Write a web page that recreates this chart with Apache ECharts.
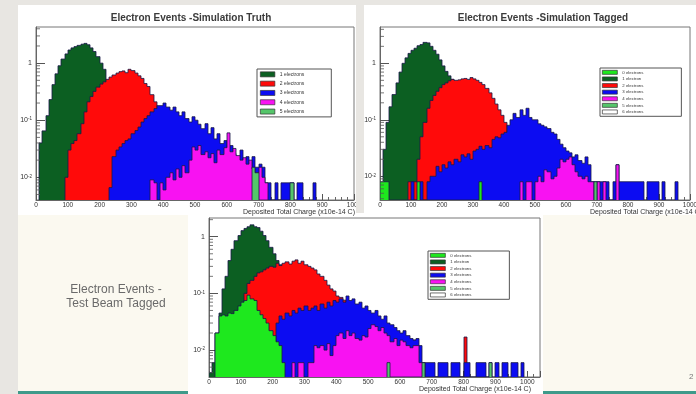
<!DOCTYPE html>
<html>
<head>
<meta charset="utf-8">
<script src="https://cdn.jsdelivr.net/npm/echarts@6.0.0/dist/echarts.min.js"></script>
<style>
html,body{margin:0;padding:0;background:#e8e6e2;}
#chart{width:696px;height:394px;}
</style>
</head>
<body>
<div id="chart"></div>
<script>
// Every histogram uses bins of 10 (x1e-14 C); each series lists its bin contents
// starting at the lower edge given by the matching *Start constant.
const BIN = 10;
const AXIS_TITLE = 'Deposited Total Charge (x10e-14 C)';

// ---- Electron Events - Simulation Truth ----
const truthOneStart = 10;
const truthOne = [0.04,0.065,0.12,0.23,0.42,0.65,0.9,1.18,1.45,1.7,1.85,1.95,2.05,2.15,2.22,2.1,1.85,1.6,1.3,1.0,0.78,0.5,0.3,0.12,0.05,0.02];
const truthTwoStart = 90;
const truthTwo = [0.01,0.03,0.039,0.044,0.058,0.087,0.14,0.21,0.26,0.32,0.38,0.43,0.47,0.52,0.57,0.62,0.67,0.71,0.73,0.68,0.78,0.74,0.67,0.6,0.54,0.44,0.39,0.28,0.21,0.15,0.09,0.045,0.02,0.01];
const truthThreeStart = 230;
const truthThree = [0.0066,0.023,0.03,0.034,0.039,0.044,0.047,0.058,0.066,0.076,0.093,0.107,0.12,0.14,0.16,0.18,0.18,0.2,0.17,0.15,0.17,0.14,0.12,0.14,0.107,0.093,0.115,0.1,0.085,0.071,0.087,0.058,0.074,0.047,0.058,0.039,0.044,0.032,0.036,0.026,0.023,0.03,0.02,0.023,0.015,0.023,0.015,0.017,0.015,0.008,0.008,0,0.008,0,0.008,0.008,0.008,0.008,0,0.008,0.008,0,0,0,0.008];
const truthFourStart = 360;
const truthFour = [0.009,0.008,0,0.008,0.006,0.01,0.012,0.009,0.014,0.01,0.016,0.012,0.02,0.034,0.03,0.036,0.025,0.028,0.022,0.026,0.018,0.03,0.025,0.033,0.06,0.028,0.032,0.024,0.02,0.022,0.017,0.02,0.014,0.012,0.015,0.01,0.008];
const truthFiveStart = 680;
const truthFive = [0.015,0.012,0,0,0,0,0,0,0,0,0,0,0.008];

// ---- Electron Events - Simulation Tagged ----
const tagZeroStart = 0;
const tagZero = [0.008,0.008,0.008,0,0,0,0,0,0,0,0,0,0.008,0,0,0,0,0,0,0,0,0,0,0,0,0,0,0,0,0,0,0,0.008];
const tagOneStart = 10;
const tagOne = [0.03,0.09,0.17,0.28,0.45,0.7,1.0,1.25,1.5,1.7,1.85,2.05,2.15,2.35,2.3,2.0,1.7,1.45,1.15,0.9,0.72,0.6,0.52,0.3,0.12,0.05,0.02];
const tagTwoStart = 90;
const tagTwo = [0.008,0.008,0.008,0.02,0.05,0.09,0.16,0.22,0.27,0.32,0.37,0.42,0.45,0.49,0.52,0.5,0.51,0.53,0.54,0.52,0.56,0.53,0.5,0.46,0.42,0.36,0.3,0.24,0.19,0.15,0.12,0.09,0.06,0.03,0.012];
const tagThreeStart = 100;
const tagThree = [0.008,0,0,0.008,0,0.008,0.01,0.01,0.015,0.012,0.016,0.014,0.018,0.016,0.02,0.018,0.024,0.022,0.025,0.02,0.028,0.03,0.034,0.03,0.035,0.032,0.045,0.05,0.048,0.056,0.06,0.08,0.1,0.13,0.11,0.15,0.12,0.16,0.11,0.1,0.1,0.085,0.08,0.075,0.07,0.06,0.056,0.045,0.037,0.032,0.028,0.026,0.022,0.024,0.019,0.017,0.022,0.016,0.008,0.008,0.008,0.008,0.008,0.008,0,0.008,0.016,0.008,0.008,0.008,0.008,0.008,0.008,0.008,0.008,0,0.008,0.008,0.008,0.008,0,0.008,0,0,0,0.008];
const tagFourStart = 450;
const tagFour = [0.008,0,0.008,0.008,0,0.008,0.01,0.008,0.013,0.012,0.009,0.01,0.014,0.02,0.018,0.02,0.022,0.016,0.012,0.01,0.009,0.01,0.008,0.008,0,0.008,0,0.008,0,0,0,0.016];
const tagFiveStart = 690;
const tagFive = [0.008];
const tagSixStart = 0;
const tagSix = [];

// ---- Electron Events - Test Beam Tagged ----
const beamZeroStart = 20;
const beamZero = [0.02,0.04,0.042,0.04,0.045,0.044,0.05,0.06,0.07,0.075,0.093,0.08,0.075,0.05,0.042,0.036,0.03,0.022,0.018,0.014,0.012,0.006];
const beamOneStart = 0;
const beamOne = [0.004,0.006,0.02,0.045,0.12,0.2,0.38,0.6,0.85,1.05,1.28,1.4,1.5,1.62,1.5,1.45,1.25,1.05,0.85,0.65,0.5,0.38,0.32,0.27,0.12,0.04,0.015];
const beamTwoStart = 100;
const beamTwo = [0.05,0.1,0.15,0.17,0.2,0.23,0.24,0.26,0.28,0.3,0.29,0.34,0.31,0.34,0.36,0.33,0.37,0.39,0.34,0.37,0.32,0.3,0.28,0.26,0.22,0.2,0.17,0.14,0.12,0.11,0.09,0.085,0.076,0.06,0.04,0.03,0.022,0.018,0.015,0.012,0.012,0.01,0.008,0,0,0,0,0,0,0,0,0,0,0,0.015,0,0,0,0,0,0,0,0,0,0,0,0,0,0,0,0.017];
const beamThreeStart = 200;
const beamThree = [0.006,0.03,0.04,0.035,0.045,0.04,0.05,0.045,0.055,0.05,0.06,0.05,0.055,0.06,0.05,0.065,0.055,0.07,0.06,0.075,0.07,0.08,0.07,0.09,0.075,0.08,0.065,0.07,0.055,0.06,0.05,0.045,0.05,0.04,0.035,0.04,0.03,0.028,0.025,0.022,0.02,0.022,0.018,0.016,0.015,0.016,0.012,0.006,0.006,0.006,0.006,0,0.006,0.006,0.006,0,0.006,0.006,0.006,0,0.006,0.006,0,0,0.006,0.006,0.006,0,0.006,0,0.006,0,0.006,0.006,0,0.006,0.006,0,0.006];
const beamFourStart = 260;
const beamFour = [0.006,0,0.006,0.006,0,0.006,0.006,0.012,0.011,0.012,0.01,0.013,0.008,0.012,0.018,0.02,0.016,0.022,0.018,0.02,0.016,0.015,0.018,0.017,0.024,0.028,0.026,0.022,0.025,0.02,0.018,0.014,0.016,0.012,0.015,0.014,0.012,0.011,0.012,0.012,0.006,0.006];
const beamFiveStart = 560;
const beamFive = [0.006,0,0,0,0,0,0,0,0,0,0,0.006,0,0,0,0,0,0,0,0,0,0,0,0,0,0,0,0,0,0,0,0,0.006];
const beamSixStart = 0;
const beamSix = [];

// Minor ticks of the logarithmic axes sit at 2..9 times each power of ten
const logMantissas = [2,3,4,5,6,7,8,9];
const logDecades = [0.001,0.01,0.1,1];

const FONT = '"Liberation Sans", Arial, sans-serif';
const OUTLINE = '#1a1a48';
const COLOR = {
  zero: '#1ee81e', one: '#0c5f22', two: '#ff0a0a', three: '#0c0cf2',
  four: '#f812f2', five: '#55c66a', six: '#ffffff'
};

function histItems(start, values) {
  return values.map((v, i) => [
    start + i * BIN, start + (i + 1) * BIN, v,
    i > 0 ? values[i - 1] : 0, i === values.length - 1 ? 1 : 0
  ]);
}

// Filled bin plus the ROOT-style contour (left step and top edge);
// x edges are snapped to whole pixels so neighbouring bins join without seams.
function renderBin(params, api) {
  const cs = params.coordSys;
  const bottom = cs.y + cs.height;
  const yOf = v => {
    if (!(v > 0)) return bottom;
    const y = api.coord([0, v])[1];
    return isFinite(y) ? Math.min(y, bottom) : bottom;
  };
  const x0 = Math.round(api.coord([api.value(0), 1])[0]);
  const x1 = Math.round(api.coord([api.value(1), 1])[0]);
  const yTop = yOf(api.value(2));
  const yPrev = yOf(api.value(3));
  const pts = [[x0, yPrev], [x0, yTop], [x1, yTop]];
  if (api.value(4)) pts.push([x1, bottom]);
  const children = [];
  if (yTop < bottom) {
    children.push({type: 'rect', shape: {x: x0, y: yTop, width: x1 - x0, height: bottom - yTop},
      style: {fill: api.visual('color')}});
  }
  children.push({type: 'polyline', shape: {points: pts},
    style: {stroke: OUTLINE, lineWidth: 0.9, fill: null, opacity: 0.9}});
  return {type: 'group', children};
}

function hist(name, grid, start, values, color) {
  return {
    type: 'custom', name, xAxisIndex: grid, yAxisIndex: grid,
    itemStyle: {color}, clip: true, silent: true,
    encode: {x: [0, 1], y: 2},
    renderItem: renderBin, data: histItems(start, values)
  };
}

const minorValues = logDecades.flatMap(d => logMantissas.map(m => m * d));
function minorTicks(grid) {
  return {
    type: 'custom', name: 'log minor ticks ' + grid, xAxisIndex: grid, yAxisIndex: grid,
    clip: true, silent: true, z: 5, encode: {y: 0},
    data: minorValues.map(v => [v]),
    renderItem: (params, api) => {
      const cs = params.coordSys;
      const y = api.coord([0, api.value(0)])[1];
      if (!(y > cs.y && y < cs.y + cs.height)) return null;
      return {type: 'line', shape: {x1: cs.x, y1: y, x2: cs.x + 4, y2: y},
        style: {stroke: '#555', lineWidth: 0.8}};
    }
  };
}

function decadeLabel(v) {
  const l = Math.log10(v);
  const e = Math.round(l);
  if (Math.abs(l - e) > 1e-6) return '';
  return e === 0 ? '1' : '10{s|' + e + '}';
}

function xAxisFor(grid, max, nameGap) {
  return {
    type: 'value', gridIndex: grid, min: 0, max, interval: 100,
    axisLine: {lineStyle: {color: '#666', width: 1}},
    axisTick: {inside: true, length: 6, lineStyle: {color: '#555'}},
    minorTick: {show: true, splitNumber: 5, length: 3, lineStyle: {color: '#666'}},
    splitLine: {show: false},
    axisLabel: {fontSize: 6.5, color: '#333', margin: 1.5, fontFamily: FONT,
      showMaxLabel: max === 1000, formatter: v => String(v)},
    name: AXIS_TITLE, nameLocation: 'end', nameGap,
    nameTextStyle: {fontSize: 7, color: '#333', align: 'right', verticalAlign: 'top',
      padding: [8.5, 0, 0, 0], fontFamily: FONT}
  };
}

function yAxisFor(grid, min, max) {
  return {
    type: 'log', logBase: 10, gridIndex: grid, min, max,
    axisLine: {lineStyle: {color: '#666', width: 1}},
    axisTick: {inside: true, length: 9, lineStyle: {color: '#555'}},
    splitLine: {show: false},
    axisLabel: {
      fontSize: 7, color: '#333', margin: 4, fontFamily: FONT,
      showMinLabel: false, showMaxLabel: false, formatter: decadeLabel,
      rich: {s: {fontSize: 4.5, verticalAlign: 'top', fontFamily: FONT, color: '#333'}}
    }
  };
}

function legendFor(left, top, names, opts) {
  return Object.assign({
    orient: 'vertical', left, top, data: names, icon: 'rect',
    backgroundColor: '#ffffff', borderColor: '#555', borderWidth: 1,
    itemStyle: {borderColor: '#333', borderWidth: 0.7},
    selectedMode: false
  }, opts);
}

const tagNames = ['0 electrons','1 electron','2 electrons','3 electrons','4 electrons','5 electrons','6 electrons'];

const chart = echarts.init(document.getElementById('chart'), null, {renderer: 'canvas'});
chart.setOption({
  animation: false,
  textStyle: {fontFamily: FONT},
  title: [
    {text: 'Electron Events -Simulation Truth', left: 186, top: 8, textAlign: 'center',
      textStyle: {fontSize: 10, fontWeight: 'bold', color: '#3a3a3a', fontFamily: FONT}},
    {text: 'Electron Events -Simulation Tagged', left: 538, top: 8, textAlign: 'center',
      textStyle: {fontSize: 10, fontWeight: 'bold', color: '#3a3a3a', fontFamily: FONT}}
  ],
  grid: [
    {left: 36, top: 27, width: 318, height: 173, show: true, borderColor: '#777', borderWidth: 1, outerBoundsMode: 'none'},
    {left: 380, top: 27, width: 310, height: 173, show: true, borderColor: '#777', borderWidth: 1, outerBoundsMode: 'none'},
    {left: 209, top: 218, width: 331, height: 159, show: true, borderColor: '#777', borderWidth: 1, outerBoundsMode: 'none'}
  ],
  xAxis: [xAxisFor(0, 1000, 1), xAxisFor(1, 1000, 12), xAxisFor(2, 1040, -9)],
  yAxis: [yAxisFor(0, 0.004, 4.3), yAxisFor(1, 0.0038, 4.4), yAxisFor(2, 0.00335, 2.14)],
  legend: [
    legendFor(257, 69, ['1 electrons','2 electrons','3 electrons','4 electrons','5 electrons'], {
      itemWidth: 14.5, itemHeight: 5, itemGap: 3.6, padding: [2.5, 27, 2.5, 3],
      textStyle: {fontSize: 5, lineHeight: 5, color: '#333', fontFamily: FONT}
    }),
    legendFor(600, 68, tagNames, {
      itemWidth: 15, itemHeight: 4, itemGap: 1.9, padding: [2, 38, 2, 2],
      textStyle: {fontSize: 4.3, lineHeight: 4, color: '#333', fontFamily: FONT}
    }),
    legendFor(428, 251, tagNames, {
      itemWidth: 15, itemHeight: 4, itemGap: 1.9, padding: [2, 38, 2, 2],
      textStyle: {fontSize: 4.3, lineHeight: 4, color: '#333', fontFamily: FONT}
    })
  ],
  graphic: [
    {type: 'rect', z: -20, silent: true, shape: {x: 18, y: 213, width: 678, height: 178}, style: {fill: '#fbf9f0'}},
    {type: 'rect', z: -20, silent: true, shape: {x: 18, y: 391, width: 678, height: 3}, style: {fill: '#3e9a8a'}},
    {type: 'rect', z: -19, silent: true, shape: {x: 18, y: 5, width: 341, height: 210}, style: {fill: '#ffffff'}},
    {type: 'rect', z: -19, silent: true, shape: {x: 364, y: 5, width: 332, height: 210}, style: {fill: '#ffffff'}},
    {type: 'rect', z: -18, silent: true, shape: {x: 188, y: 213, width: 355, height: 181}, style: {fill: '#ffffff'}},
    {type: 'rect', z: 50, silent: true, shape: {x: 356, y: 5, width: 7, height: 208}, style: {fill: '#e8e6e2'}},
    {type: 'text', z: 1, silent: true, x: 116, y: 297,
      style: {text: 'Electron Events -\nTest Beam Tagged', fontSize: 12, lineHeight: 14,
        fill: '#6a6a6a', align: 'center', verticalAlign: 'middle', fontFamily: FONT}},
    {type: 'text', z: 1, silent: true, x: 689, y: 373,
      style: {text: '2', fontSize: 8, fill: '#777', fontFamily: FONT}}
  ],
  series: [
    hist('1 electrons', 0, truthOneStart, truthOne, COLOR.one),
    hist('2 electrons', 0, truthTwoStart, truthTwo, COLOR.two),
    hist('3 electrons', 0, truthThreeStart, truthThree, COLOR.three),
    hist('4 electrons', 0, truthFourStart, truthFour, COLOR.four),
    hist('5 electrons', 0, truthFiveStart, truthFive, COLOR.five),
    minorTicks(0),

    hist('1 electron', 1, tagOneStart, tagOne, COLOR.one),
    hist('2 electrons', 1, tagTwoStart, tagTwo, COLOR.two),
    hist('3 electrons', 1, tagThreeStart, tagThree, COLOR.three),
    hist('4 electrons', 1, tagFourStart, tagFour, COLOR.four),
    hist('5 electrons', 1, tagFiveStart, tagFive, COLOR.five),
    hist('6 electrons', 1, tagSixStart, tagSix, COLOR.six),
    hist('0 electrons', 1, tagZeroStart, tagZero, COLOR.zero),
    minorTicks(1),

    hist('1 electron', 2, beamOneStart, beamOne, COLOR.one),
    hist('2 electrons', 2, beamTwoStart, beamTwo, COLOR.two),
    hist('3 electrons', 2, beamThreeStart, beamThree, COLOR.three),
    hist('4 electrons', 2, beamFourStart, beamFour, COLOR.four),
    hist('5 electrons', 2, beamFiveStart, beamFive, COLOR.five),
    hist('6 electrons', 2, beamSixStart, beamSix, COLOR.six),
    hist('0 electrons', 2, beamZeroStart, beamZero, COLOR.zero),
    minorTicks(2)
  ]
});
</script>
</body>
</html>
